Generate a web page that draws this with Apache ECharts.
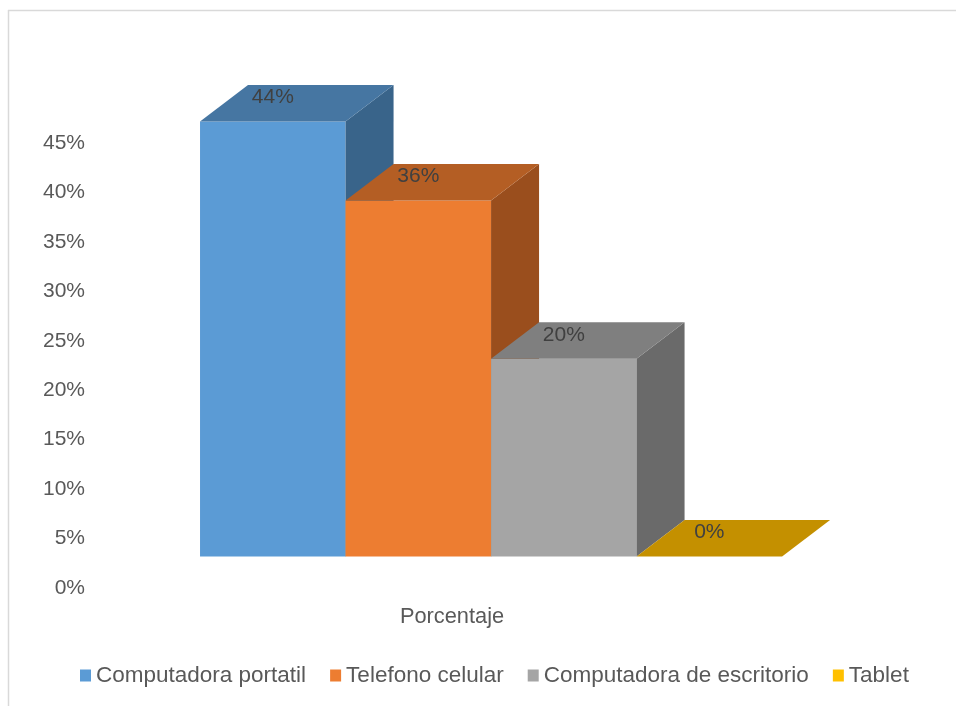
<!DOCTYPE html>
<html>
<head>
<meta charset="utf-8">
<script src="https://cdn.jsdelivr.net/npm/echarts@6/dist/echarts.min.js"></script>
<style>
html,body{margin:0;padding:0;background:#fff;}
#c{width:956px;height:706px;}
</style>
</head>
<body>
<div id="c"></div>
<script>
// ---- data ----
const categories = ['Porcentaje'];
const seriesNames = ['Computadora portatil', 'Telefono celular', 'Computadora de escritorio', 'Tablet'];
const seriesValues = [44, 36, 20, 0];
const yTicks = [0, 5, 10, 15, 20, 25, 30, 35, 40, 45];

// ---- styles ----
const frontColors = ['#5B9BD5', '#ED7D31', '#A5A5A5', '#FFC000'];
const topColors   = ['#4676A2', '#B45E24', '#7F7F7F', '#C49000'];
const sideColors  = ['#39648A', '#9A4E1D', '#6A6A6A', '#A67A00'];
const FONT = 'Liberation Sans, Arial, sans-serif';
const START_FRAC = -0.3529;
const BAR_FRAC = 0.2038;
const LIFT = 31.5;
const DX = 48, DY = 36.5;

function renderItem(params, api) {
  const idx = params.seriesIndex;
  const base = api.coord([api.value(0), 0]);
  const top = api.coord([api.value(0), api.value(1)]);
  const bw = api.size([1, 0])[0];
  const w = bw * BAR_FRAC;
  const x0 = base[0] + bw * START_FRAC + idx * w;
  const x1 = x0 + w;
  const yb = base[1] - LIFT;
  const yt = top[1] - LIFT;
  const children = [];
  if (yb - yt > 0.5) {
    children.push({type: 'rect', shape: {x: x0, y: yt, width: w, height: yb - yt},
      style: {fill: frontColors[idx]}});
    children.push({type: 'polygon', shape: {points: [[x1, yb], [x1, yt], [x1 + DX, yt - DY], [x1 + DX, yb - DY]]},
      style: {fill: sideColors[idx]}});
  }
  children.push({type: 'polygon', shape: {points: [[x0, yt], [x0 + DX, yt - DY], [x1 + DX, yt - DY], [x1, yt]]},
    style: {fill: topColors[idx]}});
  children.push({type: 'text', x: x0 + w / 2, y: yt - 24,
    style: {text: api.value(1) + '%', fill: '#404040', font: '21px ' + FONT, align: 'center', verticalAlign: 'middle'}});
  return {type: 'group', children: children};
}

const series = seriesNames.map((name, i) => ({
  name: name,
  type: 'custom',
  renderItem: renderItem,
  itemStyle: {color: frontColors[i]},
  encode: {x: 0, y: 1},
  data: [[0, seriesValues[i]]]
}));

const chart = echarts.init(document.getElementById('c'), null, {renderer: 'canvas'});
chart.setOption({
  animation: false,
  backgroundColor: '#ffffff',
  textStyle: {fontFamily: FONT},
  grid: {left: 95, right: 147, top: 143, bottom: 118, containLabel: false},
  xAxis: {
    type: 'category',
    data: categories,
    axisLine: {show: false},
    axisTick: {show: false},
    splitLine: {show: false},
    axisLabel: {color: '#595959', fontSize: 21.8, fontFamily: FONT, margin: 18}
  },
  yAxis: {
    type: 'value',
    min: yTicks[0],
    max: yTicks[yTicks.length - 1],
    interval: yTicks[1] - yTicks[0],
    axisLine: {show: false},
    axisTick: {show: false},
    splitLine: {show: false},
    axisLabel: {color: '#595959', fontSize: 21, fontFamily: FONT, margin: 10, formatter: v => v + '%'}
  },
  legend: {
    data: seriesNames,
    left: 75,
    top: 659,
    icon: 'rect',
    itemWidth: 11,
    itemHeight: 12,
    itemGap: 24,
    textStyle: {color: '#595959', fontSize: 22.5, fontFamily: FONT}
  },
  graphic: [
    {type: 'line', shape: {x1: 8, y1: 10.5, x2: 956, y2: 10.5}, style: {stroke: '#d9d9d9', lineWidth: 1.5}, silent: true},
    {type: 'line', shape: {x1: 8.5, y1: 10, x2: 8.5, y2: 706}, style: {stroke: '#d9d9d9', lineWidth: 1.5}, silent: true}
  ],
  series: series
});
</script>
</body>
</html>
